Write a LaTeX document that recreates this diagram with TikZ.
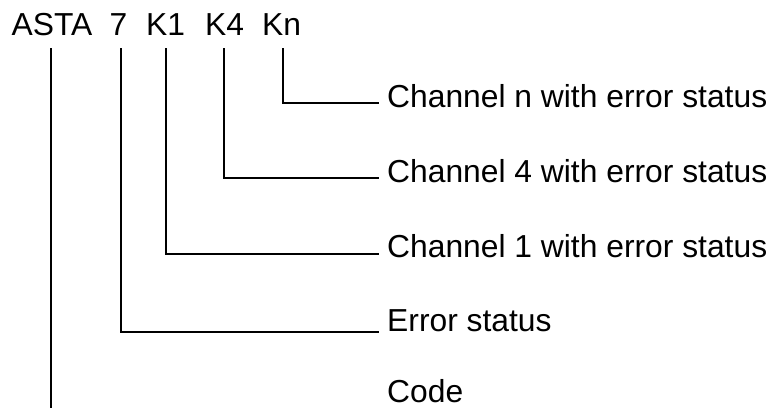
\documentclass[tikz,border=0pt]{standalone}
\usepackage{fontspec}
\setmainfont{Liberation Sans}
\begin{document}
\begin{tikzpicture}[x=1pt,y=-1pt,
  tok/.style={anchor=base,inner sep=0pt,font=\fontsize{31.8}{32}\selectfont},
  lab/.style={anchor=base west,inner sep=0pt,font=\fontsize{31.8}{32}\selectfont},
  lead/.style={line width=1.4pt}]
\useasboundingbox (0,0) rectangle (776,408);
% top tokens
\node[tok] (asta) at (52,35.5) {ASTA};
\node[tok] (n7) at (118.5,35.5) {7};
\node[tok] (k1) at (165.5,35.5) {K1};
\node[tok] (k4) at (224.5,35.5) {K4};
\node[tok] (kn) at (281.5,35.5) {Kn};
% labels
\node[lab] (lkn) at (387,107.5) {Channel n with error status};
\node[lab] (lk4) at (387,182.5) {Channel 4 with error status};
\node[lab] (lk1) at (387,257.5) {Channel 1 with error status};
\node[lab] (l7) at (387,331.5) {Error status};
\node[lab] (lasta) at (387,402) {Code};
% line start levels and ends
\coordinate (ekn) at (379,103);
\coordinate (ek4) at (379,178);
\coordinate (ek1) at (379,254);
\coordinate (e7) at (379,332);
\coordinate (easta) at (51,408);
\draw[lead] ([yshift=-12.5pt]kn.base -| 283,0) |- (ekn);
\draw[lead] ([yshift=-12.5pt]k4.base -| 224,0) |- (ek4);
\draw[lead] ([yshift=-12.5pt]k1.base -| 166,0) |- (ek1);
\draw[lead] ([yshift=-12.5pt]n7.base -| 121,0) |- (e7);
\draw[lead] ([yshift=-12.5pt]asta.base -| 51,0) -- (easta);
\end{tikzpicture}
\end{document}
